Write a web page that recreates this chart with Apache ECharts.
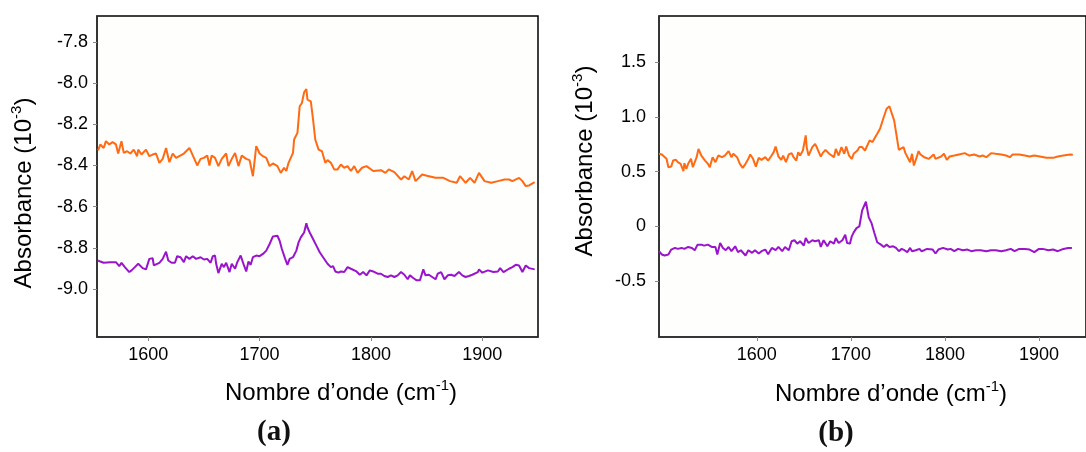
<!DOCTYPE html>
<html><head><meta charset="utf-8">
<script src="https://cdn.jsdelivr.net/npm/echarts@6/dist/echarts.min.js"></script>
<style>html,body{margin:0;padding:0;background:#fff}#c{width:1086px;height:452px}</style>
</head><body><div id="c"></div>
<script>
// ---- data (wavenumber cm-1, absorbance 10^-3) ----
const xTicks = [1600, 1700, 1800, 1900];
const yTicksA = [-9.0, -8.8, -8.6, -8.4, -8.2, -8.0, -7.8];
const yTicksB = [-0.5, 0, 0.5, 1.0, 1.5];

const orangeA = [[1555,-8.327],[1557,-8.298],[1560,-8.315],[1562,-8.282],[1565,-8.298],[1568,-8.287],[1571,-8.298],[1573,-8.342],[1576,-8.282],[1578,-8.339],[1581,-8.331],[1584,-8.342],[1587,-8.323],[1590,-8.355],[1591,-8.323],[1594,-8.347],[1598,-8.323],[1601,-8.355],[1604,-8.347],[1607,-8.342],[1610,-8.387],[1613,-8.368],[1616,-8.315],[1619,-8.384],[1622,-8.342],[1625,-8.363],[1632,-8.342],[1637,-8.315],[1641,-8.363],[1644,-8.400],[1647,-8.368],[1650,-8.363],[1653,-8.352],[1655,-8.400],[1657,-8.352],[1660,-8.363],[1663,-8.403],[1666,-8.368],[1670,-8.342],[1672,-8.403],[1675,-8.368],[1678,-8.339],[1681,-8.403],[1684,-8.352],[1688,-8.368],[1691,-8.374],[1694,-8.452],[1697,-8.306],[1700,-8.342],[1703,-8.355],[1706,-8.363],[1709,-8.403],[1712,-8.390],[1716,-8.403],[1719,-8.436],[1722,-8.411],[1724,-8.427],[1726,-8.387],[1730,-8.339],[1731,-8.274],[1734,-8.242],[1736,-8.113],[1738,-8.097],[1740,-8.045],[1742,-8.029],[1743,-8.081],[1746,-8.089],[1748,-8.177],[1750,-8.274],[1753,-8.323],[1756,-8.331],[1759,-8.387],[1761,-8.374],[1764,-8.387],[1767,-8.419],[1770,-8.419],[1773,-8.395],[1776,-8.411],[1779,-8.403],[1782,-8.427],[1785,-8.403],[1788,-8.436],[1792,-8.411],[1796,-8.403],[1802,-8.427],[1809,-8.423],[1813,-8.436],[1816,-8.419],[1821,-8.432],[1827,-8.468],[1830,-8.452],[1834,-8.468],[1837,-8.427],[1840,-8.476],[1846,-8.444],[1852,-8.452],[1858,-8.460],[1865,-8.460],[1871,-8.476],[1877,-8.484],[1880,-8.452],[1885,-8.484],[1889,-8.460],[1893,-8.484],[1897,-8.436],[1902,-8.476],[1908,-8.484],[1914,-8.476],[1920,-8.468],[1924,-8.468],[1927,-8.476],[1933,-8.460],[1936,-8.476],[1939,-8.500],[1942,-8.497],[1947,-8.481]];

const purpleA = [[1555,-8.861],[1557,-8.866],[1560,-8.872],[1566,-8.869],[1571,-8.869],[1574,-8.888],[1576,-8.872],[1579,-8.893],[1583,-8.917],[1585,-8.909],[1588,-8.893],[1591,-8.877],[1595,-8.898],[1598,-8.904],[1601,-8.853],[1604,-8.850],[1605,-8.885],[1610,-8.872],[1613,-8.853],[1616,-8.818],[1618,-8.861],[1621,-8.872],[1624,-8.872],[1626,-8.840],[1629,-8.845],[1632,-8.869],[1634,-8.840],[1637,-8.853],[1640,-8.840],[1643,-8.853],[1647,-8.845],[1650,-8.856],[1653,-8.853],[1656,-8.872],[1658,-8.840],[1660,-8.837],[1661,-8.877],[1663,-8.922],[1666,-8.877],[1668,-8.893],[1670,-8.872],[1673,-8.917],[1675,-8.877],[1678,-8.901],[1680,-8.869],[1683,-8.837],[1684,-8.845],[1686,-8.885],[1688,-8.914],[1690,-8.866],[1692,-8.882],[1694,-8.845],[1697,-8.837],[1700,-8.840],[1703,-8.829],[1706,-8.813],[1709,-8.781],[1712,-8.744],[1716,-8.741],[1718,-8.765],[1720,-8.805],[1723,-8.853],[1725,-8.882],[1727,-8.853],[1730,-8.845],[1733,-8.813],[1735,-8.773],[1737,-8.749],[1740,-8.725],[1742,-8.680],[1743,-8.701],[1745,-8.725],[1748,-8.757],[1751,-8.789],[1754,-8.821],[1757,-8.845],[1761,-8.877],[1764,-8.893],[1766,-8.888],[1768,-8.914],[1771,-8.920],[1773,-8.914],[1776,-8.917],[1779,-8.893],[1782,-8.901],[1787,-8.914],[1790,-8.930],[1793,-8.917],[1796,-8.933],[1799,-8.909],[1802,-8.914],[1806,-8.925],[1809,-8.925],[1812,-8.936],[1815,-8.941],[1818,-8.933],[1821,-8.941],[1824,-8.933],[1827,-8.917],[1830,-8.930],[1833,-8.952],[1835,-8.933],[1838,-8.946],[1841,-8.957],[1844,-8.957],[1847,-8.904],[1849,-8.933],[1852,-8.930],[1855,-8.941],[1858,-8.952],[1860,-8.925],[1863,-8.917],[1866,-8.952],[1869,-8.933],[1872,-8.930],[1875,-8.936],[1879,-8.917],[1882,-8.933],[1885,-8.941],[1888,-8.936],[1891,-8.930],[1896,-8.917],[1897,-8.904],[1900,-8.920],[1905,-8.909],[1910,-8.917],[1914,-8.914],[1916,-8.898],[1919,-8.917],[1924,-8.901],[1927,-8.893],[1930,-8.882],[1933,-8.885],[1936,-8.917],[1939,-8.885],[1942,-8.898],[1947,-8.904]];

const orangeB = [[1496,0.664],[1499,0.658],[1501,0.664],[1504,0.618],[1506,0.541],[1509,0.547],[1511,0.602],[1514,0.609],[1516,0.587],[1519,0.572],[1522,0.505],[1523,0.578],[1525,0.526],[1527,0.572],[1530,0.618],[1532,0.541],[1536,0.633],[1538,0.709],[1541,0.648],[1545,0.602],[1548,0.572],[1550,0.541],[1553,0.633],[1556,0.587],[1559,0.648],[1563,0.633],[1566,0.648],[1570,0.688],[1573,0.633],[1575,0.664],[1579,0.633],[1582,0.572],[1585,0.535],[1588,0.572],[1591,0.618],[1593,0.658],[1596,0.618],[1599,0.547],[1602,0.627],[1605,0.609],[1609,0.633],[1612,0.602],[1615,0.639],[1618,0.679],[1620,0.731],[1623,0.639],[1626,0.609],[1628,0.648],[1631,0.587],[1634,0.658],[1637,0.670],[1639,0.633],[1642,0.602],[1644,0.679],[1646,0.648],[1649,0.694],[1652,0.832],[1653,0.725],[1655,0.648],[1659,0.725],[1662,0.755],[1664,0.719],[1668,0.639],[1670,0.670],[1673,0.700],[1677,0.664],[1679,0.658],[1682,0.633],[1684,0.709],[1687,0.648],[1690,0.725],[1693,0.664],[1695,0.731],[1698,0.648],[1701,0.618],[1703,0.664],[1707,0.694],[1709,0.725],[1712,0.725],[1715,0.694],[1717,0.709],[1720,0.786],[1723,0.771],[1726,0.817],[1728,0.847],[1731,0.893],[1733,0.878],[1735,1.000],[1738,1.076],[1741,1.098],[1743,1.046],[1746,0.969],[1748,0.862],[1751,0.700],[1753,0.688],[1756,0.725],[1758,0.670],[1760,0.658],[1763,0.587],[1765,0.664],[1767,0.557],[1770,0.633],[1772,0.688],[1774,0.658],[1778,0.633],[1783,0.618],[1788,0.658],[1790,0.618],[1796,0.639],[1799,0.664],[1802,0.609],[1805,0.639],[1810,0.648],[1815,0.658],[1821,0.670],[1826,0.648],[1831,0.658],[1837,0.639],[1840,0.648],[1844,0.633],[1849,0.670],[1854,0.664],[1860,0.658],[1865,0.648],[1869,0.633],[1872,0.658],[1879,0.658],[1885,0.648],[1890,0.639],[1895,0.648],[1901,0.639],[1908,0.627],[1915,0.627],[1920,0.639],[1926,0.648],[1933,0.658],[1936,0.655]];

const purpleB = [[1496,-0.226],[1499,-0.256],[1502,-0.265],[1506,-0.256],[1509,-0.211],[1513,-0.196],[1516,-0.205],[1520,-0.196],[1523,-0.205],[1527,-0.187],[1531,-0.196],[1534,-0.217],[1537,-0.166],[1541,-0.166],[1544,-0.175],[1548,-0.166],[1552,-0.187],[1556,-0.187],[1558,-0.256],[1561,-0.151],[1564,-0.196],[1567,-0.217],[1570,-0.187],[1573,-0.226],[1577,-0.181],[1580,-0.235],[1583,-0.217],[1588,-0.265],[1591,-0.217],[1595,-0.241],[1598,-0.217],[1602,-0.247],[1605,-0.226],[1609,-0.211],[1612,-0.253],[1616,-0.196],[1620,-0.217],[1623,-0.187],[1627,-0.226],[1630,-0.187],[1634,-0.217],[1637,-0.135],[1640,-0.126],[1643,-0.157],[1646,-0.135],[1650,-0.175],[1652,-0.105],[1655,-0.151],[1659,-0.126],[1662,-0.135],[1666,-0.126],[1668,-0.187],[1671,-0.126],[1675,-0.181],[1678,-0.135],[1682,-0.157],[1684,-0.105],[1687,-0.151],[1691,-0.126],[1694,-0.075],[1696,-0.151],[1699,-0.157],[1701,-0.090],[1703,-0.054],[1706,-0.015],[1709,0.000],[1712,0.147],[1716,0.226],[1719,0.083],[1722,0.030],[1725,-0.060],[1728,-0.144],[1732,-0.166],[1735,-0.187],[1738,-0.166],[1741,-0.187],[1745,-0.181],[1748,-0.196],[1751,-0.226],[1754,-0.205],[1757,-0.217],[1760,-0.235],[1763,-0.196],[1765,-0.226],[1769,-0.217],[1773,-0.205],[1775,-0.226],[1778,-0.217],[1781,-0.205],[1787,-0.211],[1790,-0.247],[1793,-0.211],[1798,-0.196],[1803,-0.211],[1806,-0.205],[1810,-0.226],[1814,-0.205],[1819,-0.217],[1824,-0.211],[1828,-0.226],[1833,-0.217],[1838,-0.217],[1844,-0.226],[1849,-0.217],[1854,-0.217],[1860,-0.226],[1865,-0.217],[1870,-0.205],[1874,-0.226],[1879,-0.205],[1885,-0.205],[1890,-0.211],[1895,-0.235],[1900,-0.205],[1904,-0.205],[1910,-0.217],[1915,-0.211],[1920,-0.226],[1926,-0.205],[1931,-0.196],[1935,-0.196]];

const xTitle = 'Nombre d\u2019onde (cm';
const yTitle = 'Absorbance (10';
const captions = ['(a)', '(b)'];

// ---- styling ----
const FONT = '"Liberation Sans", Arial, sans-serif';
const ORANGE = '#ff6a13';
const PURPLE = '#9a14cc';

function xAxis(gi, min, max) {
  return {
    type: 'value', gridIndex: gi, min: min, max: max,
    axisLine: { show: true, onZero: false, lineStyle: { color: '#333', width: 1.5 } },
    axisTick: { show: true, customValues: xTicks, length: 4, lineStyle: { color: '#888', width: 1 } },
    axisLabel: { customValues: xTicks, fontSize: 18, color: '#000', fontFamily: FONT, margin: 9, formatter: v => String(v) },
    splitLine: { show: false }
  };
}
function yAxis(gi, min, max, ticks, margin, fmt) {
  return {
    type: 'value', gridIndex: gi, min: min, max: max,
    axisLine: { show: true, onZero: false, lineStyle: { color: '#333', width: 1.5 } },
    axisTick: { show: true, customValues: ticks, length: 4, lineStyle: { color: '#888', width: 1 } },
    axisLabel: { customValues: ticks, fontSize: 18, color: '#000', fontFamily: FONT, margin: margin, formatter: fmt },
    splitLine: { show: false }
  };
}
function line(xi, data, color) {
  return { type: 'line', xAxisIndex: xi, yAxisIndex: xi, data: data, showSymbol: false, symbol: 'none',
    lineStyle: { color: color, width: 2 }, itemStyle: { color: color }, animation: false, z: 3 };
}
const richT = {
  a: { fontSize: 24, fontFamily: FONT, color: '#000', lineHeight: 30 },
  s: { fontSize: 15, fontFamily: FONT, color: '#000', lineHeight: 18, verticalAlign: 'top' }
};
function txt(x, y, text, rot) {
  return { type: 'text', x: x, y: y, rotation: rot || 0, z: 10,
    style: { text: text, rich: richT, align: 'center', verticalAlign: 'middle' } };
}

const chart = echarts.init(document.getElementById('c'), null, { renderer: 'canvas' });
chart.setOption({
  animation: false,
  backgroundColor: '#ffffff',
  grid: [
    { left: 97, top: 16, width: 441, height: 321, show: true, backgroundColor: '#fefefc', borderColor: '#000', borderWidth: 1.5 },
    { left: 659, top: 16, width: 441, height: 321, show: true, backgroundColor: '#fefefc', borderColor: '#000', borderWidth: 1.5 }
  ],
  xAxis: [xAxis(0, 1554, 1950), xAxis(1, 1496, 1950)],
  yAxis: [
    yAxis(0, -9.232, -7.675, yTicksA, 9, v => v.toFixed(1)),
    yAxis(1, -1.01, 1.923, yTicksB, 13, v => (Math.abs(v) < 1e-9 ? '0' : v.toFixed(1)))
  ],
  series: [line(0, orangeA, ORANGE), line(0, purpleA, PURPLE), line(1, orangeB, ORANGE), line(1, purpleB, PURPLE)],
  graphic: [
    txt(24, 193, '{a|' + yTitle + '}{s|-3}{a|)}', Math.PI / 2),
    txt(585, 161, '{a|' + yTitle + '}{s|-3}{a|)}', Math.PI / 2),
    txt(341, 393, '{a|' + xTitle + '}{s|-1}{a|)}', 0),
    txt(891, 394, '{a|' + xTitle + '}{s|-1}{a|)}', 0),
    { type: 'text', x: 274, y: 433, z: 10, style: { text: captions[0], font: 'bold 29px "Liberation Serif", serif', fill: '#111', align: 'center', verticalAlign: 'middle' } },
    { type: 'text', x: 836, y: 434, z: 10, style: { text: captions[1], font: 'bold 29px "Liberation Serif", serif', fill: '#111', align: 'center', verticalAlign: 'middle' } }
  ]
});
</script></body></html>
